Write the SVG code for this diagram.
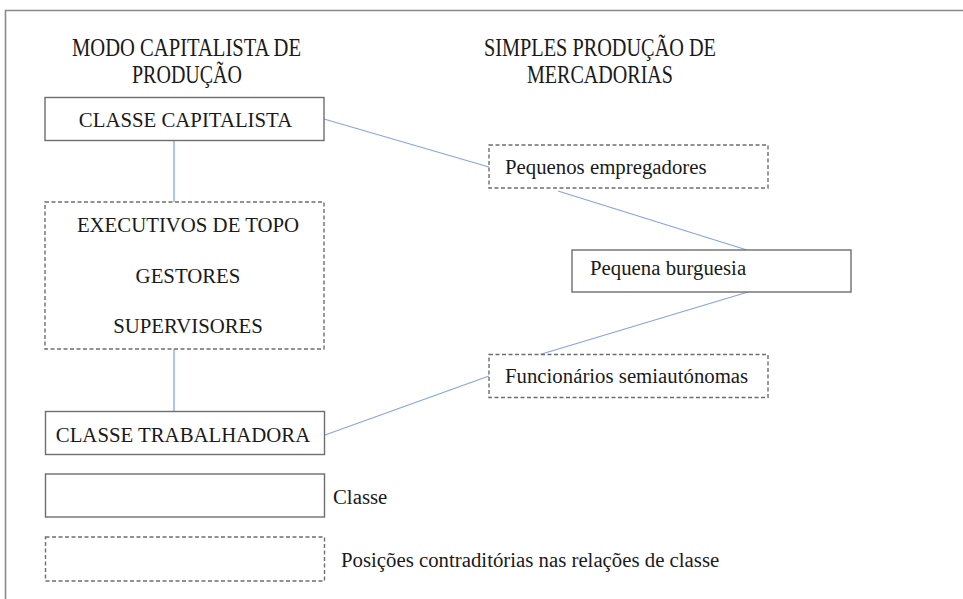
<svg xmlns="http://www.w3.org/2000/svg" width="963" height="599" viewBox="0 0 963 599">
  <style>
    .box { fill: #ffffff; stroke: #6e6e6e; stroke-width: 1.4; }
    .dash { fill: #ffffff; stroke: #6e6e6e; stroke-width: 1.4; stroke-dasharray: 4 2.5; }
    .txt { font-family: "Liberation Serif", "Times New Roman", serif; font-size: 20.8px; fill: #1a1a1a; }
    .title { font-family: "Liberation Serif", "Times New Roman", serif; font-size: 20.6px; fill: #1a1a1a; text-anchor: middle; }
    .mid { text-anchor: middle; }
    .conn line { stroke: #86a6e0; stroke-width: 1.3; fill: none; }
    .frame { stroke: #8a8a8a; stroke-width: 1.6; fill: none; }
  </style>
  <rect x="0" y="0" width="963" height="599" fill="#ffffff"/>
  <path class="frame" d="M5.5 599 V10.5 H963"/>

  <g id="title-left">
    <text class="title" transform="translate(186.5,56) scale(1,1.22)" textLength="229" lengthAdjust="spacingAndGlyphs">MODO CAPITALISTA DE</text>
    <text class="title" transform="translate(187,83) scale(1,1.22)" textLength="110" lengthAdjust="spacingAndGlyphs">PRODUÇÃO</text>
  </g>
  <g id="title-right">
    <text class="title" transform="translate(600,56) scale(1,1.22)" textLength="232" lengthAdjust="spacingAndGlyphs">SIMPLES PRODUÇÃO DE</text>
    <text class="title" transform="translate(600,83) scale(1,1.22)" textLength="146" lengthAdjust="spacingAndGlyphs">MERCADORIAS</text>
  </g>

  <g id="connectors" class="conn">
    <line x1="174" y1="140.5" x2="174" y2="202"/>
    <line x1="174" y1="349" x2="174" y2="411.5"/>
    <line x1="324" y1="119" x2="489" y2="167"/>
    <line x1="558" y1="191" x2="747" y2="250"/>
    <line x1="748" y1="292" x2="540" y2="354.5"/>
    <line x1="325" y1="435" x2="489" y2="376"/>
  </g>

  <g id="classe-capitalista">
    <rect class="box" x="45" y="97.5" width="279" height="43"/>
    <text class="txt mid" x="185.5" y="126.5">CLASSE CAPITALISTA</text>
  </g>
  <g id="posicoes-gestao">
    <rect class="dash" x="45" y="202" width="279" height="147"/>
    <text class="txt mid" x="188" y="231.5">EXECUTIVOS DE TOPO</text>
    <text class="txt mid" x="188" y="283">GESTORES</text>
    <text class="txt mid" x="188" y="332.5">SUPERVISORES</text>
  </g>
  <g id="classe-trabalhadora">
    <rect class="box" x="45.5" y="411.5" width="279" height="43"/>
    <text class="txt mid" x="183" y="441.5">CLASSE TRABALHADORA</text>
  </g>
  <g id="pequenos-empregadores">
    <rect class="dash" x="489" y="145" width="279" height="43"/>
    <text class="txt" x="505" y="174">Pequenos empregadores</text>
  </g>
  <g id="pequena-burguesia">
    <rect class="box" x="572" y="250" width="279" height="42"/>
    <text class="txt" x="590" y="275">Pequena burguesia</text>
  </g>
  <g id="funcionarios">
    <rect class="dash" x="489" y="354.5" width="279" height="43"/>
    <text class="txt" x="505" y="382.5">Funcionários semiautónomas</text>
  </g>
  <g id="legenda-classe">
    <rect class="box" x="45.5" y="474" width="279" height="43"/>
    <text class="txt" x="333" y="503.5">Classe</text>
  </g>
  <g id="legenda-posicoes">
    <rect class="dash" x="45.5" y="537" width="279" height="44"/>
    <text class="txt" x="341" y="566.5">Posições contraditórias nas relações de classe</text>
  </g>
</svg>
